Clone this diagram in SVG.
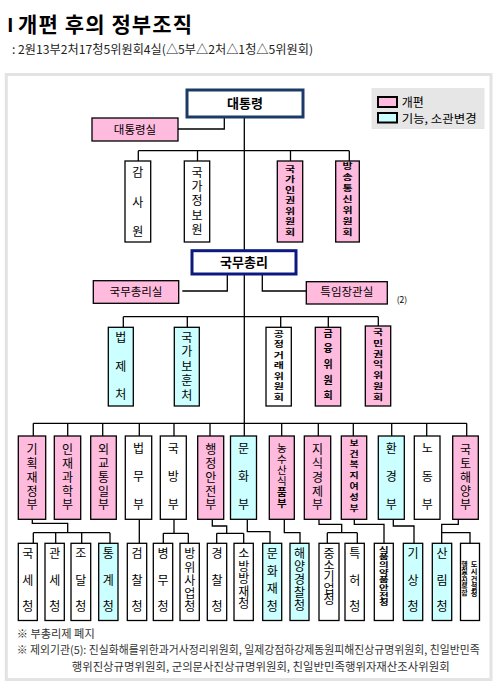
<svg xmlns="http://www.w3.org/2000/svg" width="497" height="688" viewBox="0 0 497 688">
<style>
.p{fill:#ffbbdd;stroke:#000;stroke-width:1.3}
.c{fill:#ccffff;stroke:#000;stroke-width:1.3}
.w{fill:#fff;stroke:#000;stroke-width:1.3}
.t{font-family:"Noto Sans CJK KR","Noto Sans",sans-serif;font-size:12px;text-anchor:middle;fill:#000}
.s{font-family:"Noto Sans CJK KR","Noto Sans",sans-serif;fill:#000}
.k{font-weight:bold}
.ln{fill:none;stroke:#000;stroke-width:1.3}
</style>
<rect width="497" height="688" fill="#fff"/>
<g id="title">
<text x="7.5" y="31.5" style="font-family:'Liberation Sans',sans-serif;font-size:20px;font-weight:bold">I</text>
<text x="18" y="31.5" class="s k" style="font-size:21px" textLength="174" lengthAdjust="spacing">개편 후의 정부조직</text>
<text x="12" y="54" class="s" style="font-size:12px;fill:#222" textLength="301" lengthAdjust="spacingAndGlyphs">: 2원13부2처17청5위원회4실(△5부△2처△1청△5위원회)</text>
</g>
<rect x="6.3" y="74.5" width="484.7" height="605" fill="none" stroke="#e3e3e3" stroke-width="3"/>
<g id="legend">
<rect x="371.5" y="88" width="113" height="41" fill="#e6e6e6"/>
<rect x="378" y="97" width="19" height="10" fill="#ffbbdd" stroke="#000" stroke-width="2"/>
<rect x="378" y="113" width="19" height="9.5" fill="#ccffff" stroke="#000" stroke-width="2"/>
<text x="401.7" y="106.5" class="s" style="font-size:12px">개편</text>
<text x="401.7" y="122.7" class="s" style="font-size:11.5px" textLength="75" lengthAdjust="spacingAndGlyphs">기능, 소관변경</text>
</g>
<g id="connectors">
<path class="ln" d="M244.3 117V250.7M244.3 274V436"/>
<path class="ln" d="M178 129H224.3V117"/>
<path class="ln" d="M138.3 150.7H349.3M138.3 150.7V161M197.5 150.7V161M290.5 150.7V161M349.3 150.7V161"/>
<path class="ln" d="M182.3 291H227.3V274M262.3 274V291H306.3"/>
<path class="ln" d="M123.3 316.7H378.3M123.3 316.7V327.3M187.3 316.7V327.3M280.7 316.7V327.3M328.3 316.7V327.3M378.3 316.7V326"/>
<path class="ln" d="M33.3 423.3H466.7M33.3 423.3V436M67.7 423.3V436M102.7 423.3V436M139.3 423.3V436M174 423.3V436M210 423.3V436M281.7 423.3V436M318.3 423.3V436M353.3 423.3V436M391.7 423.3V436M426.7 423.3V436M466.7 423.3V436"/>
<path class="ln" d="M32.3 519.3V523.3H67.7V532.7M33.3 532.7H110M33.3 532.7V543.3M55.7 532.7V543.3M81.7 532.7V543.3M110 532.7V543.3"/>
<path class="ln" d="M139.3 519.3V543.3"/>
<path class="ln" d="M174 519.3V533.3M163.3 533.3H188.3M163.3 533.3V543.3M188.3 533.3V543.3"/>
<path class="ln" d="M212.3 519.3V526H226.7V533.3M216.7 533.3H243.7M216.7 533.3V543.3M243.7 533.3V543.3"/>
<path class="ln" d="M247.3 519.3V531.7H270V543.3"/>
<path class="ln" d="M284.3 519.3V532.7H300V543.3"/>
<path class="ln" d="M319 519.3V524.3H341.7V532.7M327.3 532.7H357.3M327.3 532.7V543.3M357.3 532.7V543.3"/>
<path class="ln" d="M354.3 519.3V524.3H384V543.3"/>
<path class="ln" d="M393.3 519.3V526H414V543.3"/>
<path class="ln" d="M458.3 519.3V524.3H441.7V543.3M441.7 532.7H470V543.3"/>
</g>
<g id="president">
<rect x="187" y="90" width="116" height="27" fill="#fff" stroke="#1c3a68" stroke-width="3"/>
<text x="245" y="108.3" class="t k" style="font-size:13px">대통령</text>
</g>
<g id="president-office">
<rect x="92" y="118" width="86" height="23" class="p"/>
<text x="135" y="133.5" class="t" style="font-size:11.5px">대통령실</text>
</g>
<g id="bai">
<rect x="125" y="161" width="25.7" height="81" class="w"/>
<text class="t"><tspan x="137.85" y="177.4">감</tspan><tspan x="137.85" y="207.4">사</tspan><tspan x="137.85" y="236.4">원</tspan></text>
</g>
<g id="nis">
<rect x="184.3" y="161" width="25.4" height="81" class="w"/>
<text class="t"><tspan x="197" y="176.7">국</tspan><tspan x="197" y="191.1">가</tspan><tspan x="197" y="205.4">정</tspan><tspan x="197" y="219.9">보</tspan><tspan x="197" y="234.4">원</tspan></text>
</g>
<g id="nhrc">
<rect x="277.3" y="161" width="25.4" height="81" class="p"/>
<text class="t k" style="font-size:11px" transform="translate(290 0) scale(1 0.72)"><tspan x="0" y="238.8">국</tspan><tspan x="0" y="253.3">가</tspan><tspan x="0" y="267.9">인</tspan><tspan x="0" y="282.5">권</tspan><tspan x="0" y="297.1">위</tspan><tspan x="0" y="311.7">원</tspan><tspan x="0" y="326.3">회</tspan></text>
</g>
<g id="kcc">
<rect x="335.7" y="161" width="23.6" height="81" class="p"/>
<text class="t k" style="font-size:11px" transform="translate(347.5 0) scale(1 0.72)"><tspan x="0" y="235.3">방</tspan><tspan x="0" y="250.4">송</tspan><tspan x="0" y="265.6">통</tspan><tspan x="0" y="280.8">신</tspan><tspan x="0" y="296">위</tspan><tspan x="0" y="311.1">원</tspan><tspan x="0" y="326.3">회</tspan></text>
</g>
<g id="pm">
<rect x="192" y="250.7" width="104" height="23.3" fill="#fff" stroke="#0c1a80" stroke-width="3"/>
<text x="244" y="267" class="t k" style="font-size:13px">국무총리</text>
</g>
<g id="pm-office">
<rect x="93.3" y="280.7" width="85.4" height="22.6" class="p"/>
<text x="136" y="295.5" class="t" style="font-size:11.5px">국무총리실</text>
</g>
<g id="special-minister">
<rect x="306.3" y="281.7" width="81" height="22.3" class="p"/>
<text x="346.8" y="296.3" class="t" style="font-size:11.5px">특임장관실</text>
<text x="396.7" y="302.5" class="s" style="font-size:8.5px">(2)</text>
</g>
<g id="moleg">
<rect x="108.3" y="327.3" width="25" height="78.7" class="c"/>
<text class="t"><tspan x="120.8" y="341.7">법</tspan><tspan x="120.8" y="371.1">제</tspan><tspan x="120.8" y="399.4">처</tspan></text>
</g>
<g id="mpva">
<rect x="174.3" y="327.3" width="25" height="78.7" class="c"/>
<text class="t"><tspan x="186.8" y="341.7">국</tspan><tspan x="186.8" y="356.2">가</tspan><tspan x="186.8" y="370.7">보</tspan><tspan x="186.8" y="385.2">훈</tspan><tspan x="186.8" y="399.7">처</tspan></text>
</g>
<g id="ftc">
<rect x="266" y="327.3" width="25.3" height="78.7" class="w"/>
<text class="t k" style="font-size:11px" transform="translate(278.7 0) scale(1 0.72)"><tspan x="0" y="468">공</tspan><tspan x="0" y="482.5">정</tspan><tspan x="0" y="497.1">거</tspan><tspan x="0" y="511.7">래</tspan><tspan x="0" y="526.3">위</tspan><tspan x="0" y="540.8">원</tspan><tspan x="0" y="555.4">회</tspan></text>
</g>
<g id="fsc">
<rect x="315.3" y="327.3" width="25.4" height="78.7" class="p"/>
<text class="t k" style="font-size:10px"><tspan x="328" y="336.7">금</tspan><tspan x="328" y="351.7">융</tspan><tspan x="328" y="367.7">위</tspan><tspan x="328" y="383.7">원</tspan><tspan x="328" y="398.7">회</tspan></text>
</g>
<g id="acrc">
<rect x="365.3" y="326" width="25.4" height="80" class="p"/>
<text class="t k" style="font-size:11px" transform="translate(378 0) scale(1 0.72)"><tspan x="0" y="465.2">국</tspan><tspan x="0" y="480.2">민</tspan><tspan x="0" y="495.3">권</tspan><tspan x="0" y="510.3">익</tspan><tspan x="0" y="525.3">위</tspan><tspan x="0" y="540.4">원</tspan><tspan x="0" y="555.4">회</tspan></text>
</g>
<g id="mosf">
<rect x="18.3" y="436" width="27.4" height="83.3" class="p"/>
<text class="t"><tspan x="32" y="453.7">기</tspan><tspan x="32" y="467.7">획</tspan><tspan x="32" y="481.7">재</tspan><tspan x="32" y="495.6">정</tspan><tspan x="32" y="509.4">부</tspan></text>
</g>
<g id="mest">
<rect x="54.3" y="436" width="26.4" height="83.3" class="p"/>
<text class="t"><tspan x="67.5" y="453.7">인</tspan><tspan x="67.5" y="467.7">재</tspan><tspan x="67.5" y="481.7">과</tspan><tspan x="67.5" y="495.6">학</tspan><tspan x="67.5" y="509.4">부</tspan></text>
</g>
<g id="mofat">
<rect x="90.7" y="436" width="25.6" height="83.3" class="p"/>
<text class="t"><tspan x="103.5" y="453.7">외</tspan><tspan x="103.5" y="467.7">교</tspan><tspan x="103.5" y="481.7">통</tspan><tspan x="103.5" y="495.6">일</tspan><tspan x="103.5" y="509.4">부</tspan></text>
</g>
<g id="moj">
<rect x="125.3" y="436" width="26.4" height="83.3" class="w"/>
<text class="t"><tspan x="138.5" y="452.7">법</tspan><tspan x="138.5" y="481.1">무</tspan><tspan x="138.5" y="509.4">부</tspan></text>
</g>
<g id="mnd">
<rect x="160.3" y="436" width="26" height="83.3" class="w"/>
<text class="t"><tspan x="173.3" y="452.7">국</tspan><tspan x="173.3" y="481.1">방</tspan><tspan x="173.3" y="509.4">부</tspan></text>
</g>
<g id="mopas">
<rect x="197.7" y="436" width="26" height="83.3" class="p"/>
<text class="t"><tspan x="210.7" y="453.7">행</tspan><tspan x="210.7" y="467.7">정</tspan><tspan x="210.7" y="481.7">안</tspan><tspan x="210.7" y="495.6">전</tspan><tspan x="210.7" y="509.4">부</tspan></text>
</g>
<g id="mcst">
<rect x="230.5" y="436" width="26" height="83.3" class="c"/>
<text class="t"><tspan x="243.5" y="452.7">문</tspan><tspan x="243.5" y="481.1">화</tspan><tspan x="243.5" y="509.4">부</tspan></text>
</g>
<g id="mifaff">
<rect x="269.3" y="436" width="25" height="83.3" class="p"/>
<text class="t" style="font-size:10.5px"><tspan x="281.8" y="451.9">농</tspan><tspan x="281.8" y="462.9">수</tspan><tspan x="281.8" y="473.9">산</tspan><tspan x="281.8" y="484.9">식</tspan><tspan x="281.8" y="495.9" font-weight="bold">품</tspan><tspan x="281.8" y="506.9" font-weight="bold">부</tspan></text>
</g>
<g id="mke">
<rect x="304.3" y="436" width="26.4" height="83.3" class="p"/>
<text class="t"><tspan x="317.5" y="453.7">지</tspan><tspan x="317.5" y="467.7">식</tspan><tspan x="317.5" y="481.7">경</tspan><tspan x="317.5" y="495.6">제</tspan><tspan x="317.5" y="509.4">부</tspan></text>
</g>
<g id="mw">
<rect x="341.3" y="436" width="25.4" height="83.3" class="p"/>
<text class="t k" style="font-size:10px" transform="translate(354 0) scale(1 0.8)"><tspan x="0" y="557.5">보</tspan><tspan x="0" y="571.2">건</tspan><tspan x="0" y="584.3">복</tspan><tspan x="0" y="597.4">지</tspan><tspan x="0" y="611.2">여</tspan><tspan x="0" y="624.9">성</tspan><tspan x="0" y="638.7">부</tspan></text>
</g>
<g id="me">
<rect x="378.3" y="436" width="26" height="83.3" class="c"/>
<text class="t"><tspan x="391.3" y="452.7">환</tspan><tspan x="391.3" y="481.1">경</tspan><tspan x="391.3" y="509.4">부</tspan></text>
</g>
<g id="mol">
<rect x="414.3" y="436" width="25.7" height="83.3" class="w"/>
<text class="t"><tspan x="427.2" y="452.7">노</tspan><tspan x="427.2" y="481.1">동</tspan><tspan x="427.2" y="509.4">부</tspan></text>
</g>
<g id="mltm">
<rect x="452.7" y="436" width="25.6" height="83.3" class="p"/>
<text class="t"><tspan x="465.5" y="453.7">국</tspan><tspan x="465.5" y="467.7">토</tspan><tspan x="465.5" y="481.7">해</tspan><tspan x="465.5" y="495.6">양</tspan><tspan x="465.5" y="509.4">부</tspan></text>
</g>
<g id="nts">
<rect x="18.3" y="543.3" width="19" height="77.2" class="w"/>
<text class="t"><tspan x="27.8" y="558.4">국</tspan><tspan x="27.8" y="585.4">세</tspan><tspan x="27.8" y="611.4">청</tspan></text>
</g>
<g id="kcs">
<rect x="45" y="543.3" width="19.3" height="77.2" class="w"/>
<text class="t"><tspan x="54.65" y="558.4">관</tspan><tspan x="54.65" y="585.4">세</tspan><tspan x="54.65" y="611.4">청</tspan></text>
</g>
<g id="pps">
<rect x="71" y="543.3" width="19.7" height="77.2" class="w"/>
<text class="t"><tspan x="80.85" y="558.4">조</tspan><tspan x="80.85" y="585.4">달</tspan><tspan x="80.85" y="611.4">청</tspan></text>
</g>
<g id="kostat">
<rect x="98.7" y="543.3" width="19.3" height="77.2" class="c"/>
<text class="t"><tspan x="108.35" y="558.4">통</tspan><tspan x="108.35" y="585.4">계</tspan><tspan x="108.35" y="611.4">청</tspan></text>
</g>
<g id="spo">
<rect x="127.3" y="543.3" width="19.4" height="77.2" class="w"/>
<text class="t"><tspan x="137" y="558.4">검</tspan><tspan x="137" y="585.4">찰</tspan><tspan x="137" y="611.4">청</tspan></text>
</g>
<g id="mma">
<rect x="153.3" y="543.3" width="19.4" height="77.2" class="w"/>
<text class="t"><tspan x="163" y="558.4">병</tspan><tspan x="163" y="585.4">무</tspan><tspan x="163" y="611.4">청</tspan></text>
</g>
<g id="dapa">
<rect x="180" y="543.3" width="19.3" height="77.2" class="w"/>
<text class="t"><tspan x="189.65" y="558.4">방</tspan><tspan x="189.65" y="571.7">위</tspan><tspan x="189.65" y="584.9">사</tspan><tspan x="189.65" y="598.2">업</tspan><tspan x="189.65" y="611.4">청</tspan></text>
</g>
<g id="npa">
<rect x="207.3" y="543.3" width="19.4" height="77.2" class="w"/>
<text class="t"><tspan x="217" y="558.4">경</tspan><tspan x="217" y="585.4">찰</tspan><tspan x="217" y="611.4">청</tspan></text>
</g>
<g id="nema">
<rect x="234" y="543.3" width="19.3" height="77.2" class="w"/>
<text class="t"><tspan x="243.65" y="558.4">소</tspan><tspan x="243.65" y="570.9">방</tspan><tspan x="243.65" y="583.4">방</tspan><tspan x="243.65" y="595.9">재</tspan><tspan x="243.65" y="608.4">청</tspan></text>
</g>
<g id="cha">
<rect x="262.7" y="543.3" width="19" height="77.2" class="c"/>
<text class="t"><tspan x="272.2" y="558.4">문</tspan><tspan x="272.2" y="575.9">화</tspan><tspan x="272.2" y="593.4">재</tspan><tspan x="272.2" y="610.9">청</tspan></text>
</g>
<g id="kcg">
<rect x="290" y="543.3" width="19" height="77.2" class="c"/>
<text class="t"><tspan x="299.5" y="558.4">해</tspan><tspan x="299.5" y="571.4">양</tspan><tspan x="299.5" y="584.4">경</tspan><tspan x="299.5" y="597.4">찰</tspan><tspan x="299.5" y="610.4">청</tspan></text>
</g>
<g id="smba">
<rect x="319" y="543.3" width="20" height="77.2" class="w"/>
<text class="t"><tspan x="329" y="558.4">중</tspan><tspan x="329" y="569.9">소</tspan><tspan x="329" y="581.4">기</tspan><tspan x="329" y="592.9">업</tspan><tspan x="329" y="604.4">청</tspan></text>
</g>
<g id="kipo">
<rect x="345" y="543.3" width="19.3" height="77.2" class="w"/>
<text class="t"><tspan x="354.65" y="558.4">특</tspan><tspan x="354.65" y="585.4">허</tspan><tspan x="354.65" y="611.4">청</tspan></text>
</g>
<g id="kfda">
<rect x="374.3" y="543.3" width="19" height="77.2" class="w"/>
<text class="t k" style="font-size:10.5px" transform="translate(383.8 0) scale(1 0.7)"><tspan x="0" y="788.1">식</tspan><tspan x="0" y="799">품</tspan><tspan x="0" y="810">의</tspan><tspan x="0" y="820.9">약</tspan><tspan x="0" y="831.7">품</tspan><tspan x="0" y="842.6">안</tspan><tspan x="0" y="853.6">전</tspan><tspan x="0" y="864.4">청</tspan></text>
</g>
<g id="kma">
<rect x="403.3" y="543.3" width="19.4" height="77.2" class="c"/>
<text class="t"><tspan x="413" y="558.4">기</tspan><tspan x="413" y="585.4">상</tspan><tspan x="413" y="611.4">청</tspan></text>
</g>
<g id="kfs">
<rect x="432.3" y="543.3" width="19.4" height="77.2" class="c"/>
<text class="t"><tspan x="442" y="558.4">산</tspan><tspan x="442" y="585.4">림</tspan><tspan x="442" y="611.4">청</tspan></text>
</g>
<g id="macca">
<rect x="460.5" y="543.3" width="19" height="77.2" class="w"/>
<text class="t k" style="font-size:7px" transform="translate(464.5 0) scale(1 0.8)"><tspan x="0" y="707">행</tspan><tspan x="0" y="714.4">정</tspan><tspan x="0" y="721.6">중</tspan><tspan x="0" y="729">심</tspan><tspan x="0" y="736.3">복</tspan><tspan x="0" y="743.6">합</tspan></text>
<text class="t k" style="font-size:7.2px"><tspan x="474" y="567.2">도</tspan><tspan x="474" y="574.4">시</tspan><tspan x="474" y="581.6">건</tspan><tspan x="474" y="588.8">설</tspan><tspan x="474" y="596">청</tspan></text>
</g>
<g id="notes">
<text x="16.7" y="638" class="s" style="font-size:11px;fill:#333" textLength="78" lengthAdjust="spacingAndGlyphs">※ 부총리제 폐지</text>
<text x="16.7" y="654" class="s" style="font-size:11px;fill:#333" textLength="463" lengthAdjust="spacingAndGlyphs">※ 제외기관(5): 진실화해를위한과거사정리위원회, 일제강점하강제동원피해진상규명위원회, 친일반민족</text>
<text x="71.7" y="670.5" class="s" style="font-size:11px;fill:#333" textLength="378" lengthAdjust="spacingAndGlyphs">행위진상규명위원회, 군의문사진상규명위원회, 친일반민족행위자재산조사위원회</text>
</g>
</svg>
